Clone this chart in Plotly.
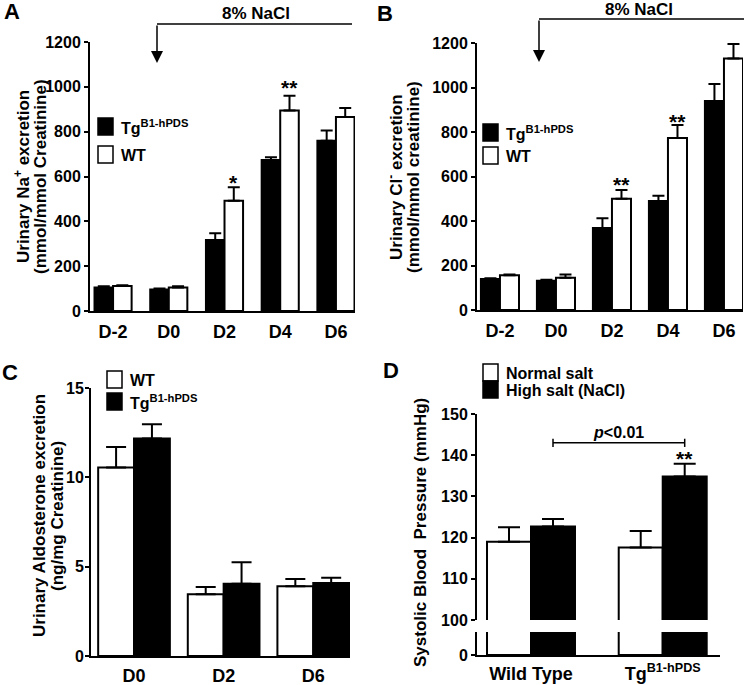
import plotly.graph_objects as go

W, H = 744, 685
FONT = "Liberation Sans, Arial, Helvetica, sans-serif"

# ---------------- data ----------------
days_ab = ["D-2", "D0", "D2", "D4", "D6"]
na_tg = [105, 96, 317, 674, 760]
na_tg_err = [5, 4, 30, 12, 45]
na_wt = [111, 105, 492, 894, 865]
na_wt_err = [4, 5, 60, 66, 41]

cl_tg = [139, 132, 369, 490, 939]
cl_tg_err = [4, 4, 43, 24, 77]
cl_wt = [156, 145, 500, 773, 1130]
cl_wt_err = [4, 14, 39, 58, 65]

days_c = ["D0", "D2", "D6"]
aldo_wt = [10.55, 3.45, 3.9]
aldo_wt_err = [1.15, 0.41, 0.41]
aldo_tg = [12.17, 4.05, 4.09]
aldo_tg_err = [0.8, 1.2, 0.29]

groups_d = ["Wild Type", "Tg<sup>B1-hPDS</sup>"]
sbp_normal = [119.0, 117.6]
sbp_normal_err = [3.5, 4.0]
sbp_high = [122.7, 134.8]
sbp_high_err = [1.8, 3.1]

TG = "Tg<sup>B1-hPDS</sup>"


def px_x(x):
    return x / W


def px_y(y):
    return 1 - y / H


fig = go.Figure()


def add_pair(xa, ya, n, left, right, w, cap):
    # left / right = (values, errors, fill colour)
    xs = list(range(n))
    for (vals, errs, fill), off in ((left, -w), (right, 0)):
        fig.add_trace(go.Bar(
            x=xs, y=vals, width=w, offset=off,
            marker=dict(color=fill, line=dict(color="black", width=2)),
            error_y=dict(type="data", array=errs, arrayminus=[0] * n, symmetric=False,
                         color="black", thickness=2, width=cap),
            xaxis=xa, yaxis=ya, showlegend=False, hoverinfo="skip"))


WA, WB, WC, WD = 0.333, 0.34, 0.40, 0.334
add_pair("x", "y", 5, (na_tg, na_tg_err, "black"), (na_wt, na_wt_err, "white"), WA, 6)
add_pair("x2", "y2", 5, (cl_tg, cl_tg_err, "black"), (cl_wt, cl_wt_err, "white"), WB, 6)
add_pair("x3", "y3", 3, (aldo_wt, aldo_wt_err, "white"), (aldo_tg, aldo_tg_err, "black"), WC, 10)
add_pair("x4", "y4", 2, (sbp_normal, sbp_normal_err, "white"), (sbp_high, sbp_high_err, "black"), WD, 11)
add_pair("x5", "y5", 2, (sbp_normal, sbp_normal_err, "white"), (sbp_high, sbp_high_err, "black"), WD, 11)

tickfont = dict(family=FONT, size=16, color="black", weight="bold")
xtickfont = dict(family=FONT, size=18, color="black", weight="bold")
yax = dict(showline=True, linewidth=2, linecolor="black", ticks="outside", ticklen=4,
           tickwidth=2, tickcolor="black", showgrid=False, zeroline=False, tickfont=tickfont,
           automargin=False)
xax = dict(showline=True, linewidth=2, linecolor="black", ticks="", showgrid=False,
           zeroline=False, tickfont=xtickfont, automargin=False)

fig.update_layout(
    width=W, height=H, margin=dict(l=0, r=0, t=0, b=0, pad=0),
    paper_bgcolor="white", plot_bgcolor="white", barmode="overlay",
    font=dict(family=FONT, color="black"),
    xaxis=dict(xax, domain=[px_x(90), px_x(355)], range=[-0.414, 4.342], ticklabelstandoff=3,
               tickvals=list(range(5)), ticktext=days_ab, anchor="y"),
    yaxis=dict(yax, domain=[px_y(311), px_y(42)], range=[0, 1200],
               tickvals=[0, 200, 400, 600, 800, 1000, 1200], anchor="x"),
    xaxis2=dict(xax, domain=[px_x(477), px_x(743)], range=[-0.41, 4.34], ticklabelstandoff=3,
                tickvals=list(range(5)), ticktext=days_ab, anchor="y2"),
    yaxis2=dict(yax, domain=[px_y(310), px_y(43)], range=[0, 1200],
                tickvals=[0, 200, 400, 600, 800, 1000, 1200], anchor="x2"),
    xaxis3=dict(xax, domain=[px_x(91), px_x(350)], range=[-0.48, 2.41], ticklabelstandoff=2,
                tickvals=list(range(3)), ticktext=days_c, anchor="y3"),
    yaxis3=dict(yax, domain=[px_y(656), px_y(388)], range=[0, 15], ticklabelstandoff=-2,
                tickvals=[0, 5, 10, 15], anchor="x3"),
    xaxis4=dict(xax, domain=[px_x(477), px_x(720)], range=[-0.41, 1.435],
                showline=False, showticklabels=False, anchor="y4"),
    yaxis4=dict(yax, domain=[px_y(620), px_y(414)], range=[100, 150],
                tickvals=[100, 110, 120, 130, 140, 150], anchor="x4"),
    xaxis5=dict(xax, domain=[px_x(477), px_x(720)], range=[-0.41, 1.435], ticklabelstandoff=1,
                tickvals=[0, 1], ticktext=groups_d, anchor="y5"),
    yaxis5=dict(yax, domain=[px_y(655), px_y(632)], range=[0, 5],
                tickvals=[0], anchor="x5"),
)

ann = []
shapes = []


def text(x, y, s, size, xanchor="center", yanchor="middle", angle=0, xref="paper", yref="paper"):
    ann.append(dict(x=x, y=y, xref=xref, yref=yref, text=s, showarrow=False,
                    xanchor=xanchor, yanchor=yanchor, textangle=angle,
                    font=dict(family=FONT, size=size, color="black", weight="bold")))


# panel letters
text(px_x(12), px_y(12), "A", 22)
text(px_x(385), px_y(13), "B", 22)
text(px_x(10), px_y(372), "C", 22)
text(px_x(391), px_y(370), "D", 22)

# y axis titles
text(px_x(22), px_y(177), "Urinary Na<sup>+</sup> excretion", 17, angle=-90)
text(px_x(40), px_y(177), "(mmol/mmol Creatinine)", 17, angle=-90)
text(px_x(395), px_y(177), "Urinary Cl<sup>-</sup> excretion", 17, angle=-90)
text(px_x(413), px_y(177), "(mmol/mmol creatinine)", 17, angle=-90)
text(px_x(39), px_y(516), "Urinary Aldosterone excretion", 17, angle=-90)
text(px_x(57), px_y(516), "(ng/mg Creatinine)", 17, angle=-90)
text(px_x(420), px_y(533), "Systolic Blood  Pressure (mmHg)", 17, angle=-90)


# legends
def legend_item(x0, y0, fill, label):
    shapes.append(dict(type="rect", xref="paper", yref="paper", x0=px_x(x0), x1=px_x(x0 + 15),
                       y0=px_y(y0 + 17), y1=px_y(y0), fillcolor=fill,
                       line=dict(color="black", width=1.5)))
    text(px_x(x0 + 21), px_y(y0 + 9), label, 16, xanchor="left")


legend_item(98, 118, "black", TG)
legend_item(98, 146, "white", "WT")
legend_item(483, 124, "black", TG)
legend_item(483, 147, "white", "WT")
legend_item(107, 371, "white", "WT")
legend_item(107, 393, "black", TG)
legend_item(483, 364, "white", "Normal salt")
legend_item(483, 381, "black", "High salt (NaCl)")

# 8% NaCl arrows
for x_left, x_right, y_line, tip, tx, ty in ((157, 352, 24, 63, 256, 13), (539, 744, 19, 62, 639, 10)):
    shapes.append(dict(type="line", xref="paper", yref="paper", x0=px_x(x_left), x1=px_x(x_right),
                       y0=px_y(y_line), y1=px_y(y_line), line=dict(color="black", width=1.5)))
    ann.append(dict(x=px_x(x_left), y=px_y(tip), xref="paper", yref="paper", text="",
                    showarrow=True, ax=0, ay=-(tip - y_line), arrowhead=2, arrowsize=1.6,
                    arrowwidth=1.5, arrowcolor="black"))
    text(px_x(tx), px_y(ty), "8% NaCl", 17)

# significance stars (glyph centre in data units)
stars = [("x", "y", 2 + WA / 2, 584, "*"), ("x", "y", 3 + WA / 2, 1008, "**"),
         ("x2", "y2", 2 + WB / 2, 571, "**"), ("x2", "y2", 3 + WB / 2, 858, "**"),
         ("x4", "y4", 1 + WD / 2, 139.6, "**")]
for xa, ya, x, y, s in stars:
    ann.append(dict(x=x, y=y, xref=xa, yref=ya, text=s, showarrow=False, yshift=-2,
                    font=dict(family=FONT, size=21, color="black", weight="bold")))

# p<0.01 bracket in panel D
bx0, bx1, by = WD / 2, 1 + WD / 2, 143
shapes.append(dict(type="line", xref="x4", yref="y4", x0=bx0, x1=bx1, y0=by, y1=by,
                   line=dict(color="black", width=1.5)))
for bx in (bx0, bx1):
    shapes.append(dict(type="line", xref="x4", yref="y4", x0=bx, x1=bx, y0=by - 1, y1=by + 1,
                       line=dict(color="black", width=1.5)))
ann.append(dict(x=0.5 + WD / 2, y=145.4, xref="x4", yref="y4", text="<i>p</i>&lt;0.01",
                showarrow=False, font=dict(family=FONT, size=16, color="black", weight="bold")))

fig.update_layout(annotations=ann, shapes=shapes)
fig.write_html("out.html", config={"displayModeBar": False},
               post_script="document.body.style.margin='0';")
